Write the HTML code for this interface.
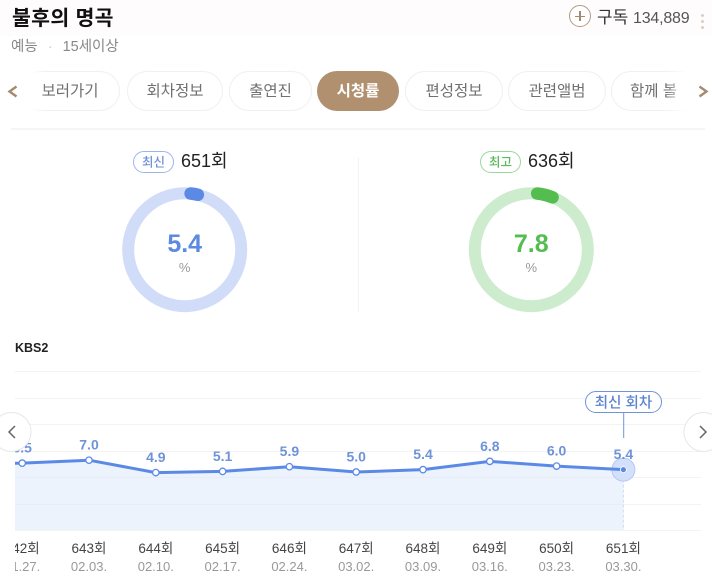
<!DOCTYPE html>
<html lang="ko">
<head>
<meta charset="utf-8">
<title>불후의 명곡 시청률</title>
<style>
html,body{margin:0;padding:0;background:#fff}
#page{position:relative;width:712px;height:586px;overflow:hidden;background:#fff;font-family:"Liberation Sans","Noto Sans CJK KR",sans-serif;color:#222}
#page div,#page span.a{position:absolute;white-space:nowrap}
.pill{top:71px;height:38px;line-height:40px;border:1px solid #f3efed;border-radius:20px;background:#fff;text-align:center;font-size:15.5px;color:#707070;box-sizing:content-box}
svg{position:absolute;left:0;top:0}
svg text{font-family:"Liberation Sans","Noto Sans CJK KR",sans-serif}
</style>
</head>
<body>
<div id="page">
  <div style="left:0;top:0;width:712px;height:36px;background:#fefcfc"></div>
  <div style="left:12px;top:4px;font-size:20.5px;font-weight:700;line-height:30px;color:#111;letter-spacing:.3px">불후의 명곡</div>
  <div style="left:11px;top:37px;font-size:14.5px;line-height:20px;color:#888">예능<span style="color:#ccc;margin:0 6px"> · </span>15세이상</div>

  <div style="left:569px;top:5px;width:22px;height:22px;border:1px solid #b39a82;border-radius:50%;box-sizing:border-box;background:#fff">
    <div style="left:5px;top:9.5px;width:10px;height:1.5px;background:#a58a70"></div>
    <div style="left:9.2px;top:5px;width:1.5px;height:10px;background:#a58a70"></div>
  </div>
  <div style="left:597px;top:6px;font-size:17px;line-height:24px;color:#333">구독 <span style="font-size:16px;color:#555;letter-spacing:-.2px">134,889</span></div>
  <div style="left:701px;top:14px;width:3px;height:3px;border-radius:50%;background:#d8cfc8;box-shadow:0 6px 0 #d8cfc8,0 12px 0 #d8cfc8"></div>

  <div class="pill" style="left:20px;width:98px;border-left-color:transparent">보러가기</div>
  <div class="pill" style="left:127px;width:94px">회차정보</div>
  <div class="pill" style="left:229px;width:81px">출연진</div>
  <div class="pill" style="left:317px;width:82px;height:40px;line-height:41px;border:0;background:#b0906f;color:#fff;font-weight:700">시청률</div>
  <div class="pill" style="left:405px;width:96px">편성정보</div>
  <div class="pill" style="left:508px;width:96px">관련앨범</div>
  <div class="pill" style="left:611px;width:100px;text-align:left;text-indent:18px;overflow:hidden">함께 볼</div>
  <div style="left:0;top:66px;width:46px;height:50px;background:linear-gradient(90deg,#fff 65%,rgba(255,255,255,0))"></div>
  <div style="left:666px;top:66px;width:46px;height:50px;background:linear-gradient(270deg,#fff 55%,rgba(255,255,255,0))"></div>

  <svg width="712" height="586" viewBox="0 0 712 586">
    <polyline points="16.500,86.500 9.500,91.500 16.500,96.500" fill="none" stroke="#a58a70" stroke-width="2.400"/>
    <polyline points="699.500,86.500 706.500,91.500 699.500,96.500" fill="none" stroke="#a58a70" stroke-width="2.400"/>
    <rect x="11" y="128" width="694" height="2" fill="#f6f4f4"/>
    <rect x="358" y="157" width="1" height="155" fill="#f3f3f3"/>

    <rect x="133.500" y="151.500" width="40" height="21" rx="10.500" fill="#fff" stroke="#9db5ea"/>
    <text x="153.500" y="166.500" text-anchor="middle" font-size="12.500" font-weight="500" fill="#6f8fd8">최신</text>
    <text x="181" y="167" font-size="18" fill="#222">651회</text>
    <circle cx="184.700" cy="249.700" r="56.500" fill="none" stroke="#d1ddf8" stroke-width="12"/>
    <path id="arc-latest" fill="none" stroke="#5b8ae6" stroke-width="12.500" stroke-linecap="round"/>
    <text id="val-latest" x="184.700" y="252" text-anchor="middle" font-size="25" font-weight="700" fill="#5b8ae0"></text>
    <text x="184.700" y="272" text-anchor="middle" font-size="13" fill="#999">%</text>

    <rect x="480.500" y="151.500" width="40" height="21" rx="10.500" fill="#fff" stroke="#9bd69c"/>
    <text x="500.500" y="166.500" text-anchor="middle" font-size="12.500" font-weight="500" fill="#5cb85c">최고</text>
    <text x="528" y="167" font-size="18" fill="#222">636회</text>
    <circle cx="531.300" cy="249.700" r="56.500" fill="none" stroke="#cdeccd" stroke-width="12"/>
    <path id="arc-peak" fill="none" stroke="#54bd50" stroke-width="12.500" stroke-linecap="round"/>
    <text id="val-peak" x="531.300" y="252" text-anchor="middle" font-size="25" font-weight="700" fill="#54bd50"></text>
    <text x="531.300" y="272" text-anchor="middle" font-size="13" fill="#999">%</text>

    <text x="15" y="352" font-size="12.500" font-weight="700" fill="#222">KBS2</text>

    <defs><clipPath id="plot-clip"><rect x="15" y="360" width="690" height="226"/></clipPath></defs>
    <g id="grid"></g>
    <g id="series" clip-path="url(#plot-clip)"></g>

    <line x1="623.700" y1="412" x2="623.700" y2="438" stroke="#6f94d8"/>
    <rect x="585.500" y="391.500" width="76" height="21" rx="10.500" fill="#fff" stroke="#6f94d8"/>
    <text x="623.500" y="407.500" text-anchor="middle" font-size="14.500" font-weight="500" fill="#5b83cf">최신 회차</text>

    <g>
      <circle cx="11.500" cy="432" r="19.500" fill="#fff" stroke="#e6e6e6"/>
      <polyline points="15,426 9,432 15,438" fill="none" stroke="#666" stroke-width="1.500"/>
    </g>
    <g>
      <circle cx="703.500" cy="432" r="19.500" fill="#fff" stroke="#e6e6e6"/>
      <polyline points="700,426 706,432 700,438" fill="none" stroke="#666" stroke-width="1.500"/>
    </g>
  </svg>
</div>
<script>
var episodes = ['642회','643회','644회','645회','646회','647회','648회','649회','650회','651회'];
var dates = ['01.27.','02.03.','02.10.','02.17.','02.24.','03.02.','03.09.','03.16.','03.23.','03.30.'];
var ratings = [6.5,7.0,4.9,5.1,5.9,5.0,5.4,6.8,6.0,5.4];
var gridTicks = [-4.83,-0.34,4.15,8.64,13.13,17.62,22.11];
var latestRating = 5.4;
var peakRating = 7.8;

var NS = 'http://www.w3.org/2000/svg';
function xScale(i){ return 22.2 + i * 66.8; }
function yScale(v){ return 472 - (v - 5.0) * 5.9; }
var baseY = yScale(gridTicks[0]);

function make(tag, attrs, parent){
  var el = document.createElementNS(NS, tag);
  for (var k in attrs) el.setAttribute(k, attrs[k]);
  parent.appendChild(el);
  return el;
}

var grid = document.getElementById('grid');
gridTicks.forEach(function(t){
  var y = Math.round(yScale(t)) + 0.5;
  var l = make('line', {x1:15, x2:701, y1:y, y2:y, stroke:'#f3f3f3'}, grid);
  
  
});

var series = document.getElementById('series');
var pts = ratings.map(function(v,i){ return xScale(i).toFixed(1) + ',' + yScale(v).toFixed(1); });
var lastX = xScale(ratings.length - 1);
var firstX = xScale(0) - 30;

var area = make('polygon', {
  points: firstX + ',' + yScale(ratings[0] - 0.1).toFixed(1) + ' ' + pts.join(' ') + ' ' + lastX.toFixed(1) + ',' + baseY.toFixed(1) + ' ' + firstX + ',' + baseY.toFixed(1),
  fill: '#ecf3fd'
}, series);



gridTicks.slice(1, 3).forEach(function(t){
  var y = Math.round(yScale(t)) + 0.5;
  var l = make('line', {x1:15, x2:lastX, y1:y, y2:y, stroke:'#e6edf8'}, series);
  
  
});

var drop = make('line', {x1:lastX, x2:lastX, y1:yScale(ratings[ratings.length-1]), y2:baseY, stroke:'#cfdcf6', 'stroke-dasharray':'3 2'}, series);



var halo = make('circle', {cx:lastX, cy:yScale(ratings[ratings.length-1]), r:11.5, fill:'#d3e0fa', stroke:'#b3c9f3'}, series);



var line = make('polyline', {points:firstX + ',' + yScale(ratings[0] - 0.1).toFixed(1) + ' ' + pts.join(' '), fill:'none', stroke:'#5b8ae6', 'stroke-width':3, 'stroke-linejoin':'round'}, series);



ratings.forEach(function(v,i){
  var last = i === ratings.length - 1;
  var x = xScale(i), y = yScale(v);
  var p = make('circle', {cx:x, cy:y, r:last ? 3 : 3.2, fill:last ? '#5b8ae6' : '#fff', stroke:last ? '#fff' : '#5b8ae6', 'stroke-width':last ? 0.8 : 1.3}, series);
  
  

  var t = make('text', {x:x, y:y - 10.5, 'text-anchor':'middle', 'font-size':14, 'font-weight':700, fill:'#6f93d8'}, series);
  t.textContent = v.toFixed(1);
  
  

  var e = make('text', {x:x, y:553, 'text-anchor':'middle', 'font-size':13.5, fill:'#444'}, series);
  e.textContent = episodes[i];
  
  

  var d = make('text', {x:x, y:571, 'text-anchor':'middle', 'font-size':13, fill:'#999'}, series);
  d.textContent = dates[i];
  
  
});

function arcPath(cx, cy, r, pct){
  var capDeg = 6;
  var a0 = capDeg * Math.PI / 180;
  var a1 = (pct * 3.6 - capDeg) * Math.PI / 180;
  return 'M' + (cx + r * Math.sin(a0)).toFixed(2) + ' ' + (cy - r * Math.cos(a0)).toFixed(2) +
         ' A' + r + ' ' + r + ' 0 0 1 ' + (cx + r * Math.sin(a1)).toFixed(2) + ' ' + (cy - r * Math.cos(a1)).toFixed(2);
}
document.getElementById('arc-latest').setAttribute('d', arcPath(184.7, 249.7, 56.5, latestRating));
document.getElementById('arc-peak').setAttribute('d', arcPath(531.3, 249.7, 56.5, peakRating));
document.getElementById('val-latest').textContent = latestRating.toFixed(1);
document.getElementById('val-peak').textContent = peakRating.toFixed(1);
</script>
</body>
</html>
